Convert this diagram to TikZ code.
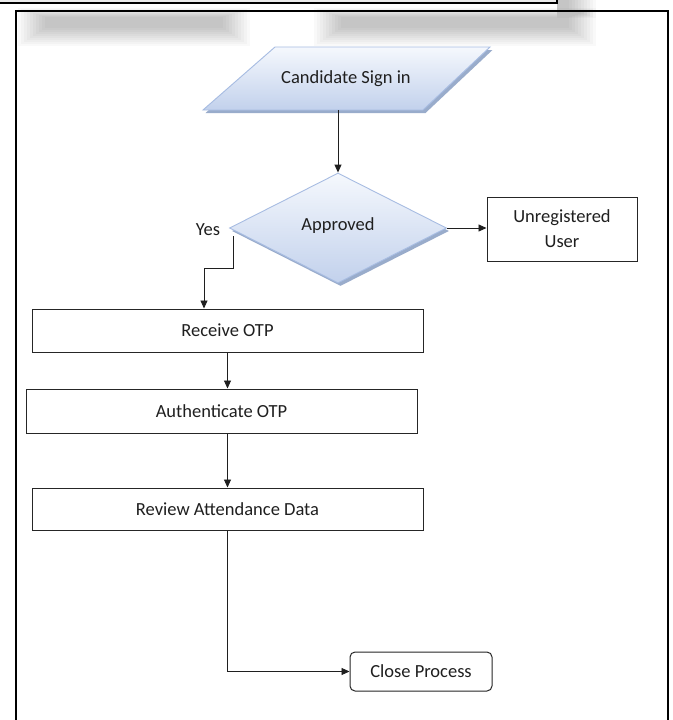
\documentclass[tikz,border=0pt]{standalone}
\usepackage{fontspec}
\setmainfont{Carlito}
\usetikzlibrary{shapes.geometric, arrows.meta, shadows}

\definecolor{shapeline}{HTML}{A7BCE2}
\definecolor{shapetop}{HTML}{F5F8FD}
\definecolor{shapebottom}{HTML}{C2D1EC}
\definecolor{shapeshadow}{HTML}{8FA3C6}
\definecolor{boxline}{HTML}{262626}
\definecolor{inkgray}{HTML}{1F1F1F}

\tikzstyle{flowshape} = [draw = shapeline, line width = 0.9pt, top color = shapetop, bottom color = shapebottom,
  drop shadow = {shadow xshift = 2.5pt, shadow yshift = -3pt, fill = shapeshadow, opacity = 0.9},
  inner sep = 0pt, text = inkgray]
\tikzstyle{process} = [rectangle, draw = boxline, line width = 1pt, fill = white, inner sep = 0pt, text = inkgray]
\tikzstyle{flow} = [draw = inkgray, line width = 0.9pt, -{Triangle[length = 8pt, width = 7pt]}]

\begin{document}
\begin{tikzpicture}[x = 1pt, y = -1pt, font = \fontsize{18.5}{25}\selectfont]
  \useasboundingbox (0, 0) rectangle (672, 720);
  \fill[white] (0, 0) rectangle (672, 720);

  % Frames and the blurred shadow under the upper one
  \foreach \k in {0, 1, ..., 9}
  {
    \fill[black, opacity = 0.022] (18 + 3*\k, 8 + \k) rectangle (250 - 3*\k, 46 - 2*\k);
    \fill[black, opacity = 0.022] (314 + 3*\k, 8 + \k) rectangle (596 - 3*\k, 46 - 2*\k);
    \fill[black, opacity = 0.022] (557, -5) rectangle (596 - 3*\k, 18 - \k);
  }
  \draw[line width = 1.8pt, fill = black!8] (-5, -20) rectangle (557, 3);
  \draw[line width = 1.8pt] (16, 11) rectangle (668, 740);

  % Shapes
  \path[flowshape] (203, 110) -- (275, 47) -- (490, 47) -- (423, 110) -- cycle;
  \node (sign) at (346, 78.5) [minimum width = 220pt, minimum height = 63pt, inner sep = 0pt, text = inkgray]
    {Candidate Sign in};
  \node (dec) at (338, 228) [diamond, minimum width = 217pt, minimum height = 110pt, flowshape]
    {\raisebox{8pt}{Approved}};
  \node (yes) at (208, 230) [text = inkgray] {Yes};
  \node (unreg) at (562, 229) [process, minimum width = 150pt, minimum height = 64pt, align = center]
    {Unregistered\\User};
  \node (recv) at (227.5, 330.5) [process, minimum width = 391pt, minimum height = 43pt] {Receive OTP};
  \node (auth) at (221.5, 411) [process, minimum width = 391pt, minimum height = 44pt] {Authenticate OTP};
  \node (rev) at (227.5, 509) [process, minimum width = 391pt, minimum height = 42pt] {Review Attendance Data};
  \node (close) at (421, 671.5) [process, rounded corners = 5pt, minimum width = 142pt, minimum height = 39pt]
    {Close Process};

  % Connectors
  \draw[flow] (dec.north |- sign.south) -- (dec.north);
  \draw[flow] (dec.east) -- (dec.east -| unreg.west);
  \draw[flow] ([shift = {(4, 8)}]dec.west) -- ++(0, 32) -| ([xshift = -23.5pt]recv.north);
  \draw[flow] (recv.south) -- (recv.south |- auth.north);
  \draw[flow] (rev.north |- auth.south) -- (rev.north);
  \draw[flow] (rev.south) |- (close.west);
\end{tikzpicture}
\end{document}
